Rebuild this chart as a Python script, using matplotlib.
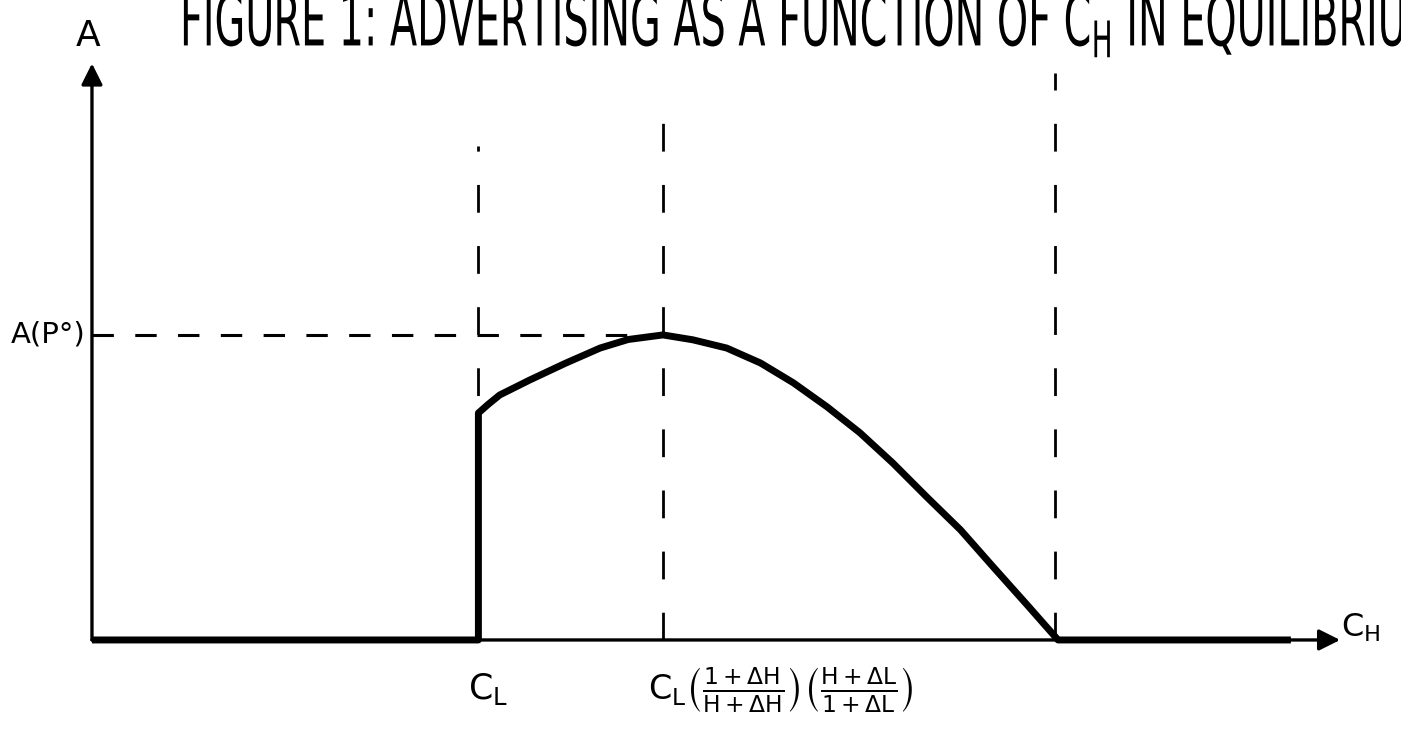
import matplotlib
matplotlib.use('Agg')
import matplotlib.pyplot as plt
from matplotlib.textpath import TextPath
from matplotlib.patches import PathPatch
from matplotlib.font_manager import FontProperties
from matplotlib.transforms import Affine2D, IdentityTransform

# equilibrium advertising A as a function of C_H (hand-drawn sketch, arbitrary units)
c_low = 4.0        # C_L
c_peak = 5.91      # C_L (1+dH)/(H+dH) (H+dL)/(1+dL)
c_end = 10.0       # advertising falls back to zero
a_peak = 1.0       # A(P°)

curve_x = [4.0, 4.10, 4.22, 4.53, 4.90, 5.26, 5.55, 5.91, 6.22, 6.57, 6.92, 7.26,
           7.61, 7.95, 8.29, 8.64, 8.99, 9.33, 9.68, 10.0]
curve_y = [0.744, 0.772, 0.803, 0.852, 0.907, 0.957, 0.985, 1.0, 0.984, 0.957, 0.908, 0.843,
           0.764, 0.679, 0.580, 0.469, 0.361, 0.239, 0.115, 0.0]

x_axis_end = 12.92
y_axis_end = 1.89
flat_end = 12.41
guide_x = [c_low, c_peak, 9.97]
guide_tops = [1.62, 1.78, 1.86]

title_text = 'FIGURE 1: ADVERTISING AS A FUNCTION OF $C_H$ IN EQUILIBRIUM'
label_low = '$C_L$'
label_peak = r'$C_L\left(\frac{1+\Delta H}{H+\Delta H}\right)\left(\frac{H+\Delta L}{1+\Delta L}\right)$'


def main():
    plt.rcParams['mathtext.fontset'] = 'dejavusans'
    plt.rcParams['mathtext.default'] = 'regular'

    fig = plt.figure(figsize=(14.01, 7.33), dpi=100)
    ax = fig.add_axes([0, 0, 1, 1])
    ax.set_xlim(-0.952, 13.55)
    ax.set_ylim(-0.305, 2.098)
    ax.axis('off')

    # axes with arrow heads
    ax.annotate('', xy=(0, y_axis_end), xytext=(0, 0),
                arrowprops=dict(arrowstyle='-|>', lw=2.4, color='black',
                                mutation_scale=32, shrinkA=0, shrinkB=0))
    ax.annotate('', xy=(x_axis_end, 0), xytext=(0, 0),
                arrowprops=dict(arrowstyle='-|>', lw=2.4, color='black',
                                mutation_scale=32, shrinkA=0, shrinkB=0))

    # dashed guides
    for gx, gt in zip(guide_x, guide_tops):
        ax.plot([gx, gx], [0, gt], color='black', lw=2.0, dashes=(10, 12))
    ax.plot([0, c_peak], [a_peak, a_peak], color='black', lw=2.2, dashes=(7, 7))

    # advertising schedule
    xs = [0, c_low] + curve_x + [flat_end]
    ys = [0, 0] + curve_y + [0]
    ax.plot(xs, ys, color='black', lw=5, solid_joinstyle='round',
            solid_capstyle='butt')

    ax.text(-0.04, 1.98, 'A', fontsize=26, ha='center', va='center')
    ax.text(-0.07, a_peak, 'A(P°)', fontsize=21, ha='right', va='center')
    ax.text(4.1, -0.16, label_low, fontsize=25, ha='center', va='center')
    ax.text(5.76, -0.165, label_peak, fontsize=24, ha='left', va='center')
    ax.text(12.93, 0.04, '$C_H$', fontsize=23, ha='left', va='center')

    # title, condensed like the hand lettering and cut off at the top
    fp = FontProperties(family='DejaVu Sans')
    path = TextPath((0, 0), title_text, size=40, prop=fp)
    prefix = TextPath((0, 0), 'FIGURE 1: ADVERTISING AS A FUNCTION OF ', size=40, prop=fp)
    sx = 866 / prefix.get_extents().x1
    sy = 1.8
    trans = Affine2D().scale(sx, sy).translate(180, 733 - 46) + IdentityTransform()
    fig.patches.append(PathPatch(path, transform=trans, color='black', lw=0))

    fig.savefig('out.png', dpi=100)


if __name__ == '__main__':
    main()
